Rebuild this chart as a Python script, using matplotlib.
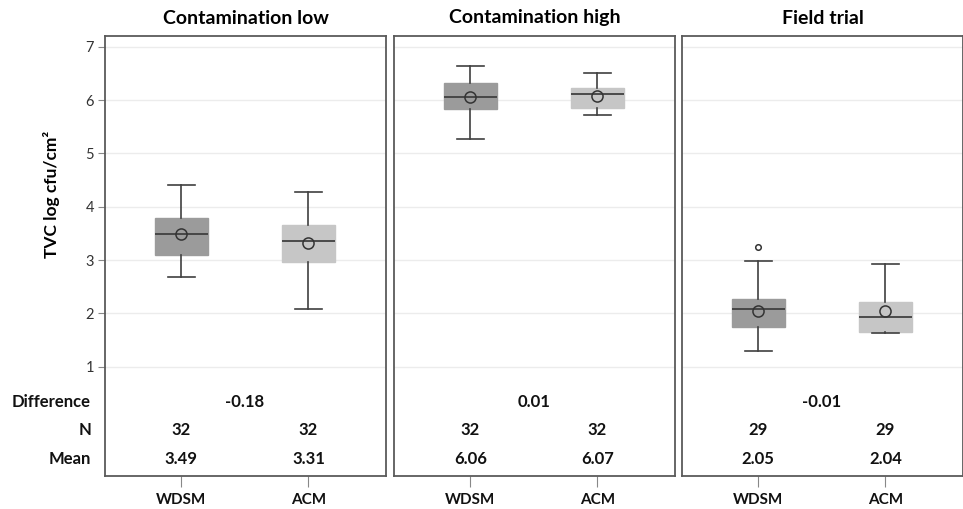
import matplotlib
matplotlib.use('Agg')
import matplotlib.pyplot as plt
import matplotlib.transforms as mtransforms

plt.rcParams['font.family'] = ['Lato', 'DejaVu Sans']

# data
panels = ['Contamination low', 'Contamination high', 'Field trial']
methods = ['WDSM', 'ACM']
whislo = [[2.69, 2.08], [5.26, 5.71], [1.29, 1.64]]
q1 = [[3.10, 2.97], [5.83, 5.85], [1.75, 1.65]]
med = [[3.49, 3.35], [6.05, 6.11], [2.08, 1.94]]
q3 = [[3.78, 3.65], [6.32, 6.22], [2.26, 2.21]]
whishi = [[4.40, 4.27], [6.63, 6.50], [2.98, 2.93]]
means = [[3.49, 3.31], [6.06, 6.07], [2.05, 2.04]]
fliers = [[[], []], [[], []], [[3.25], []]]
counts = [[32, 32], [32, 32], [29, 29]]
differences = ['-0.18', '0.01', '-0.01']
yticks = [1, 2, 3, 4, 5, 6, 7]

box_colors = ['#9b9b9b', '#c6c6c6']
line_col = '#404040'

fig = plt.figure(figsize=(9.63, 5.09), dpi=100)
lefts = [105 / 963, 394 / 963, 682 / 963]
bottom = 1 - 476 / 509
height = (476 - 36) / 509
width = 281 / 963

for i, name in enumerate(panels):
    ax = fig.add_axes([lefts[i], bottom, width, height])
    ax.set_xlim(0.4, 2.61)
    ax.set_ylim(-1.05, 7.2)

    for y in yticks:
        ax.axhline(y, color='#ececec', lw=1, zorder=0)

    stats = []
    for j in range(2):
        stats.append(dict(whislo=whislo[i][j], q1=q1[i][j], med=med[i][j],
                          q3=q3[i][j], whishi=whishi[i][j], mean=means[i][j],
                          fliers=fliers[i][j]))
    bp = ax.bxp(stats, positions=[1, 2], widths=0.415, patch_artist=True,
                showmeans=True, manage_ticks=False,
                boxprops=dict(lw=1),
                medianprops=dict(color=line_col, lw=1.3),
                whiskerprops=dict(color=line_col, lw=1.2),
                capprops=dict(color=line_col, lw=1.2),
                capwidths=0.21,
                meanprops=dict(marker='o', markerfacecolor='none',
                               markeredgecolor='#333333', markersize=8, mew=1.1),
                flierprops=dict(marker='o', markerfacecolor='none',
                                markeredgecolor='#333333', markersize=4, mew=1.1))
    for patch, c in zip(bp['boxes'], box_colors):
        patch.set_facecolor(c)
        patch.set_edgecolor(c)

    # stats table inside the panel
    ax.text(1.5, 0.34, differences[i], ha='center', va='center',
            fontsize=12, fontweight='bold', color='#111111')
    for j in range(2):
        ax.text(j + 1, -0.19, str(counts[i][j]), ha='center', va='center',
                fontsize=12, fontweight='bold', color='#111111')
        ax.text(j + 1, -0.73, '%.2f' % means[i][j], ha='center', va='center',
                fontsize=12, fontweight='bold', color='#111111')

    ax.set_title(name, fontsize=14, fontweight='bold', pad=9)

    ax.set_xticks([1, 2])
    ax.set_xticklabels(methods, fontsize=11, fontweight='bold')
    ax.tick_params(axis='x', length=8, color='#888888', pad=4, labelcolor='#111111')

    for s in ax.spines.values():
        s.set_color('#5a5a5a')
        s.set_linewidth(1.3)

    if i == 0:
        ax.set_yticks(yticks)
        ax.tick_params(axis='y', length=5, color='#888888', labelsize=10.5,
                       labelcolor='#333333', pad=3)
        ax.set_ylabel('TVC log cfu/cm²', fontsize=12.5, fontweight='bold')
        ax.yaxis.set_label_coords(-0.16, 0.64)
        trans = mtransforms.blended_transform_factory(fig.transFigure, ax.transData)
        for lab, yv in zip(['Difference', 'N', 'Mean'], [0.34, -0.19, -0.73]):
            ax.text(91 / 963, yv, lab, transform=trans, ha='right', va='center',
                    fontsize=12, fontweight='bold', color='#111111')
    else:
        ax.set_yticks([])

fig.savefig('out.png', dpi=100, facecolor='white')
